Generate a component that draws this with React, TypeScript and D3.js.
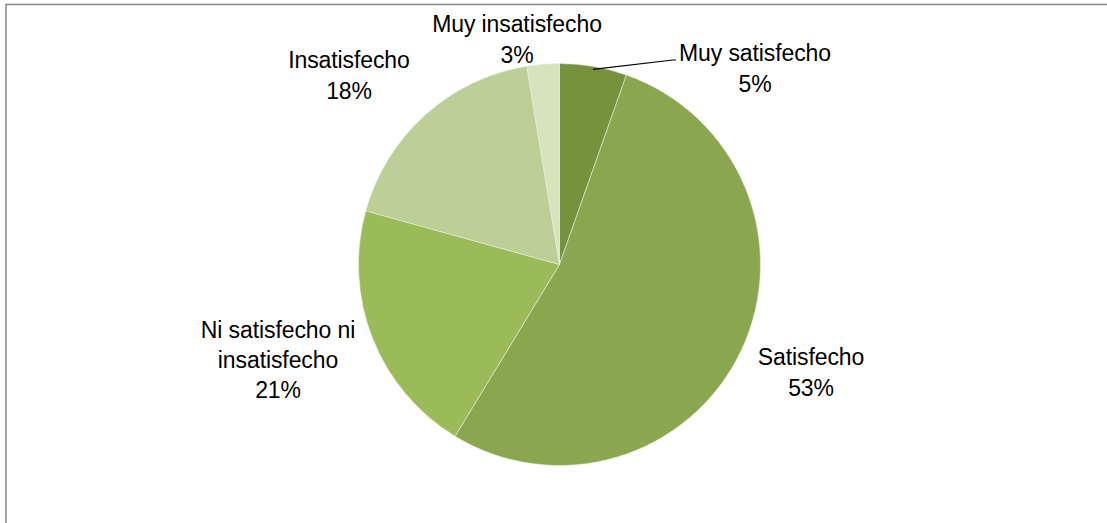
import React from "react";
import * as d3 from "d3";

const categories = ["Muy satisfecho", "Satisfecho", "Ni satisfecho ni insatisfecho", "Insatisfecho", "Muy insatisfecho"];
const values = [5.4, 53.3, 20.6, 18.1, 2.6];
const labelLines = [["Muy satisfecho"], ["Satisfecho"], ["Ni satisfecho ni", "insatisfecho"], ["Insatisfecho"], ["Muy insatisfecho"]];
const colors = ["#76923C", "#8AA64E", "#9BBB59", "#BBCF96", "#D6E3BD"];
// label anchor (center x, first baseline y)
const labelPos: [number, number][] = [[755, 61], [811, 365], [278, 338], [349, 68], [517, 32]];

export default function App() {
  const W = 1107, H = 523;
  const cx = 559.5, cy = 264.5, r = 201;
  const pie = d3.pie<number>().sort(null).value((d) => d)(values);
  const arc = d3.arc<d3.PieArcDatum<number>>().innerRadius(0).outerRadius(r);
  const total = d3.sum(values);
  const lh = 31;

  // leader line for "Muy satisfecho"
  const a0 = pie[0];
  const mid = (a0.startAngle + a0.endAngle) / 2;
  const lx = cx + Math.sin(mid) * (r - 3);
  const ly = cy - Math.cos(mid) * (r - 3);

  return (
    <svg width={W} height={H} style={{ position: "absolute", left: 0, top: 0, background: "#fff" }}>
      <rect x={6} y={4.5} width={1200} height={600} fill="#fff" stroke="#888" strokeWidth={1.5} />
      <g transform={`translate(${cx},${cy})`}>
        {pie.map((p, i) => (
          <path key={categories[i]} d={arc(p) || ""} fill={colors[i]} stroke="#e8eedd" strokeWidth={0.6} />
        ))}
      </g>
      <polyline points={`${lx},${ly} 673,60 676,60`} fill="none" stroke="#000" strokeWidth={1.2} />
      {labelLines.map((lines, i) => {
        const [x, y] = labelPos[i];
        const all = [...lines, `${Math.round((values[i] / total) * 100)}%`];
        return (
          <text key={i} x={x} y={y} textAnchor="middle" fontFamily="'Liberation Sans', Arial, sans-serif" fontSize={23} letterSpacing={-0.1} fill="#000">
            {all.map((t, j) => (
              <tspan key={j} x={x} y={y + j * (i === 2 ? 30 : lh)}>{t}</tspan>
            ))}
          </text>
        );
      })}
    </svg>
  );
}
